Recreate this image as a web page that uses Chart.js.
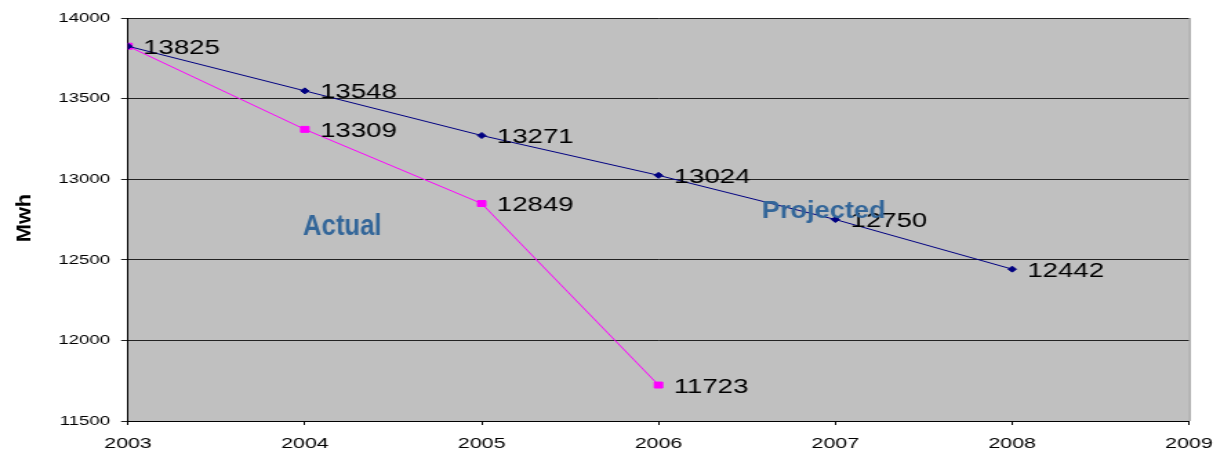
<!DOCTYPE html>
<html>
<head>
<meta charset="utf-8">
<script src="https://cdn.jsdelivr.net/npm/chart.js@4"></script>
<style>
  body { margin: 0; background: #fff; }
  /* the original picture is stretched sideways, so the chart is too */
  #wrap { width: 882px; height: 454px; transform: scaleX(1.38); transform-origin: 0 0; }
</style>
</head>
<body>
<div id="wrap"><canvas id="chart"></canvas></div>
<script>
const projectedYears = [2003, 2004, 2005, 2006, 2007, 2008];
const projectedValues = [13825, 13548, 13271, 13024, 12750, 12442];
const actualYears = [2003, 2004, 2005, 2006];
const actualValues = [13825, 13309, 12849, 11723];
const yTicks = [11500, 12000, 12500, 13000, 13500, 14000];
const xTicks = [2003, 2004, 2005, 2006, 2007, 2008, 2009];

const toPoints = (xs, ys) => xs.map((x, i) => ({ x: x, y: ys[i] }));

// gray plot area, point labels, notes and axis title
const extras = {
    id: "extras",
    beforeDraw(chart) {
        const { ctx, chartArea: a } = chart;
        ctx.save();
        ctx.fillStyle = "#c0c0c0";
        ctx.fillRect(a.left, a.top, a.right - a.left, a.bottom - a.top);
        ctx.restore();
    },
    afterDatasetsDraw(chart) {
        const { ctx, chartArea: a } = chart;
        ctx.save();
        ctx.strokeStyle = "#808080";
        ctx.lineWidth = 1;
        ctx.beginPath();
        ctx.moveTo(a.right + 0.5, a.top);
        ctx.lineTo(a.right + 0.5, a.bottom);
        ctx.stroke();

        ctx.fillStyle = "#000";
        ctx.font = "20px 'Liberation Sans', Arial, sans-serif";
        ctx.textBaseline = "middle";
        ctx.textAlign = "left";
        chart.data.datasets.forEach((ds, di) => {
            chart.getDatasetMeta(di).data.forEach((pt, i) => {
                if (di === 1 && i === 0) return; // 2003 shared with projected
                ctx.fillText(String(ds.data[i].y), pt.x + 11, pt.y + 2);
            });
        });

        ctx.fillStyle = "#336699";
        ctx.save();
        ctx.translate(219.6, 235);
        ctx.scale(0.62, 1);
        ctx.font = "bold 30px 'Liberation Sans', Arial, sans-serif";
        ctx.textBaseline = "alphabetic";
        ctx.fillText("Actual", 0, 0);
        ctx.restore();

        ctx.save();
        ctx.translate(552, 218);
        ctx.scale(0.82, 1);
        ctx.font = "bold 24px 'Liberation Sans', Arial, sans-serif";
        ctx.textBaseline = "alphabetic";
        ctx.fillText("Projected", 0, 0);
        ctx.restore();

        ctx.save();
        ctx.fillStyle = "#000";
        ctx.translate(17.4, 218);
        ctx.rotate(-Math.PI / 2);
        ctx.scale(1.45, 1);
        ctx.font = "bold 15px 'Liberation Sans', Arial, sans-serif";
        ctx.textAlign = "center";
        ctx.textBaseline = "middle";
        ctx.fillText("Mwh", 0, 0);
        ctx.restore();
        ctx.restore();
    },
};

new Chart(document.getElementById("chart"), {
    type: "line",
    data: {
        datasets: [
            {
                label: "Projected",
                data: toPoints(projectedYears, projectedValues),
                borderColor: "#000080",
                backgroundColor: "#000080",
                borderWidth: 1,
                pointStyle: "rectRot",
                pointRadius: 3,
                tension: 0,
            },
            {
                label: "Actual",
                data: toPoints(actualYears, actualValues),
                borderColor: "#ff00ff",
                backgroundColor: "#ff00ff",
                borderWidth: 1,
                pointStyle: "rect",
                pointRadius: 4.2,
                tension: 0,
            },
        ],
    },
    options: {
        responsive: true,
        maintainAspectRatio: false,
        animation: false,
        events: [],
        layout: { padding: { top: 18, right: 20.4, left: 0, bottom: 0 } },
        scales: {
            x: {
                type: "linear",
                min: xTicks[0],
                max: xTicks[xTicks.length - 1],
                afterFit: (s) => { s.height = 33; s.paddingLeft = 0; s.paddingRight = 0; },
                afterBuildTicks: (s) => { s.ticks = xTicks.map((v) => ({ value: v })); },
                ticks: {
                    color: "#000",
                    font: { family: "'Liberation Sans', Arial", size: 15.5 },
                    padding: 9,
                    maxRotation: 0,
                    callback: (v) => String(v),
                },
                grid: { drawOnChartArea: false, color: "#000", tickLength: 4 },
                border: { color: "#000" },
            },
            y: {
                min: yTicks[0],
                max: yTicks[yTicks.length - 1],
                afterFit: (s) => { s.width = 92.75; },
                afterBuildTicks: (s) => { s.ticks = yTicks.map((v) => ({ value: v })); },
                ticks: {
                    color: "#000",
                    font: { family: "'Liberation Sans', Arial", size: 13.5 },
                    padding: 8,
                    callback: (v) => String(v),
                },
                grid: { color: "#222", tickLength: 5 },
                border: { color: "#000" },
            },
        },
        plugins: {
            legend: { display: false },
            tooltip: { enabled: false },
        },
    },
    plugins: [extras],
});
</script>
</body>
</html>
